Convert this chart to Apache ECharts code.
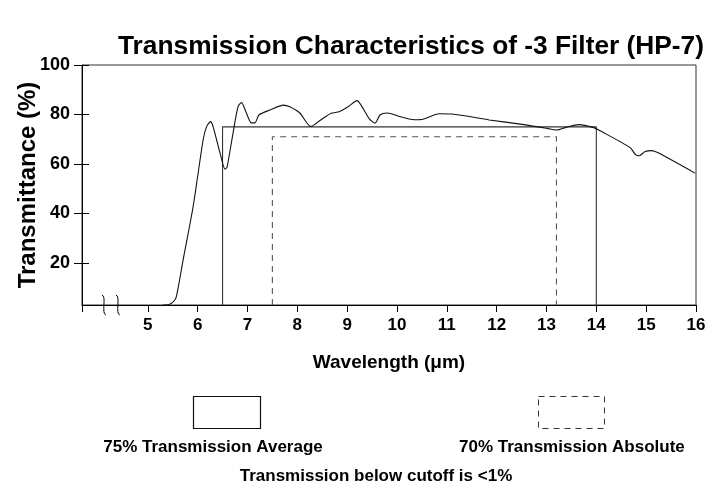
<!DOCTYPE html>
<html>
<head>
<meta charset="utf-8">
<script src="https://cdn.jsdelivr.net/npm/echarts@6/dist/echarts.min.js"></script>
<style>
html,body{margin:0;padding:0;background:#fff;}
#chart{width:706px;height:487px;}
</style>
</head>
<body>
<div id="chart"></div>
<script>
// ---- data ----
const wavelength = [5.30, 5.43, 5.55, 5.59, 5.71, 5.91, 6.11, 6.18, 6.26, 6.31, 6.45, 6.55, 6.59, 6.71, 6.81, 6.88, 6.98, 7.08, 7.15, 7.23, 7.45, 7.72, 7.85, 8.05, 8.27, 8.47, 8.68, 8.84, 9.02, 9.20, 9.28, 9.45, 9.56, 9.66, 9.80, 10.07, 10.35, 10.52, 10.85, 11.10, 11.85, 12.51, 13.01, 13.21, 13.38, 13.65, 13.95, 14.05, 14.68, 14.78, 14.86, 14.98, 15.11, 15.25, 15.98];
const transmittance = [3.0, 3.2, 5.2, 7.9, 21.3, 42.8, 69.7, 75.1, 77.1, 75.1, 64.4, 57.9, 58.7, 72.4, 83.1, 84.8, 80.5, 76.6, 76.6, 79.8, 81.8, 83.8, 83.1, 80.6, 75.2, 77.8, 80.5, 81.1, 83.1, 85.6, 83.8, 78.1, 76.5, 79.8, 80.6, 79.1, 77.9, 78.1, 80.3, 80.2, 77.8, 76.0, 74.4, 73.7, 74.7, 75.9, 74.7, 73.7, 66.6, 63.9, 63.3, 65.0, 65.4, 64.4, 56.3];
const avgBoxX = [6.5, 6.5, 14, 14];
const avgBoxY = [3, 75, 75, 3];
const absBoxX = [7.5, 7.5, 13.2, 13.2];
const absBoxY = [3, 71, 71, 3];
const xTickValues = [3.68, 5, 6, 7, 8, 9, 10, 11, 12, 13, 14, 15, 16];
const xLabelValues = [5, 6, 7, 8, 9, 10, 11, 12, 13, 14, 15, 16];
const yLabelValues = [20, 40, 60, 80, 100];
const breakAt = [4.12, 4.40];

const FONT = '"Liberation Sans", Arial, Helvetica, sans-serif';
const zip = (xs, ys) => xs.map((x, i) => [x, ys[i]]);

const chart = echarts.init(document.getElementById('chart'), null, {renderer: 'canvas'});
const option = {
  animation: false,
  backgroundColor: '#fff',
  title: {
    text: 'Transmission Characteristics of -3 Filter (HP-7)',
    left: 406, top: 29, textAlign: 'center',
    textStyle: {fontFamily: FONT, fontWeight: 'bold', fontSize: 26.3, color: '#000'}
  },
  grid: {left: 82, right: 10, top: 65, bottom: 182, outerBoundsMode: 'none', containLabel: false,
         show: true, borderColor: '#333', borderWidth: 1, backgroundColor: 'transparent'},
  xAxis: {
    type: 'value', min: 3.68, max: 16,
    name: 'Wavelength (\u03bcm)', nameLocation: 'middle', nameGap: 48, nameMoveOverlap: false,
    nameTextStyle: {fontFamily: FONT, fontWeight: 'bold', fontSize: 19, color: '#000'},
    axisLine: {show: true, lineStyle: {color: '#000', width: 1}},
    axisTick: {show: true, length: 7, lineStyle: {color: '#000'}, customValues: xTickValues},
    axisLabel: {customValues: xLabelValues, margin: 12, fontFamily: FONT, fontWeight: 'bold', fontSize: 17, color: '#000', showMinLabel: true, showMaxLabel: true},
    splitLine: {show: false}
  },
  yAxis: [{
    type: 'value', min: 3, max: 100,
    name: 'Transmittance (%)', nameLocation: 'middle', nameGap: 42, nameMoveOverlap: false,
    nameTextStyle: {fontFamily: FONT, fontWeight: 'bold', fontSize: 24, color: '#000'},
    axisLine: {show: true, lineStyle: {color: '#000', width: 1}},
    axisTick: {show: true, length: 8, lineStyle: {color: '#000'}, customValues: yLabelValues},
    axisLabel: {customValues: yLabelValues, margin: 12, fontFamily: FONT, fontWeight: 'bold', fontSize: 18, color: '#000'},
    splitLine: {show: false}
  }, {
    type: 'value', min: 3, max: 100, position: 'left', offset: 0,
    axisLine: {show: false},
    axisTick: {show: true, inside: true, length: 7, lineStyle: {color: '#000'}, customValues: yLabelValues},
    axisLabel: {show: false},
    splitLine: {show: false}
  }],
  series: [{
    type: 'line', name: 'curve', data: zip(wavelength, transmittance),
    smooth: 0.25, symbol: 'none', lineStyle: {color: '#111', width: 1.1}, z: 5
  }, {
    type: 'line', name: '75% Transmission Average', data: zip(avgBoxX, avgBoxY),
    symbol: 'none', lineStyle: {color: '#333', width: 1.1}, z: 3
  }, {
    type: 'line', name: '70% Transmission Absolute', data: zip(absBoxX, absBoxY),
    symbol: 'none', lineStyle: {color: '#555', width: 1.1, type: [6, 5]}, z: 3
  }]
};
chart.setOption(option);

// decorations: axis break marks and legend keys
const y0 = chart.convertToPixel({gridIndex: 0}, [5, 3])[1];
const breaks = breakAt.map(v => {
  const x = chart.convertToPixel({xAxisIndex: 0}, v);
  return {
    type: 'bezierCurve',
    shape: {x1: x - 2, y1: y0 - 10, x2: x + 2, y2: y0 + 10, cpx1: x + 3, cpy1: y0 - 9, cpx2: x - 3, cpy2: y0 + 9},
    style: {stroke: '#000', lineWidth: 1, fill: null}, z: 10
  };
});
chart.setOption({
  graphic: breaks.concat([
    {type: 'rect', shape: {x: 193.5, y: 396.5, width: 67, height: 32}, style: {fill: '#fff', stroke: '#111', lineWidth: 1.2}},
    {type: 'rect', shape: {x: 538.5, y: 396.5, width: 66, height: 32}, style: {fill: '#fff', stroke: '#333', lineWidth: 1, lineDash: [6, 5]}},
    {type: 'text', x: 213, y: 447, style: {text: '75% Transmission Average', x: 0, y: 0, align: 'center', verticalAlign: 'middle', font: 'bold 17px ' + FONT, fill: '#000'}},
    {type: 'text', x: 459, y: 447, style: {text: '70% Transmission Absolute', x: 0, y: 0, align: 'left', verticalAlign: 'middle', font: 'bold 17px ' + FONT, fill: '#000'}},
    {type: 'text', x: 376, y: 476, style: {text: 'Transmission below cutoff is <1%', x: 0, y: 0, align: 'center', verticalAlign: 'middle', font: 'bold 17px ' + FONT, fill: '#000'}}
  ])
});
</script>
</body>
</html>
